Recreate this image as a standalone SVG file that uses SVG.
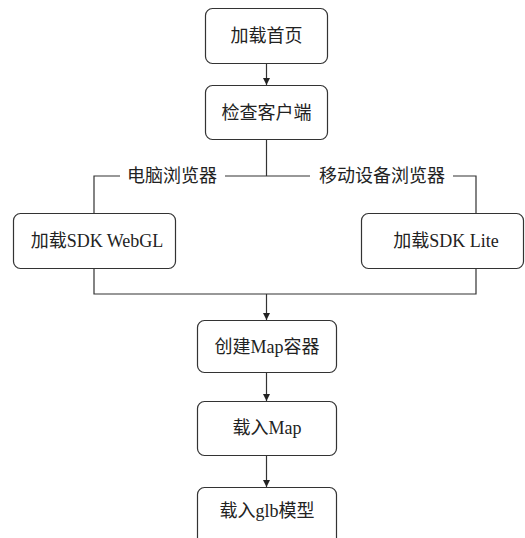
<svg xmlns="http://www.w3.org/2000/svg" width="525" height="538" viewBox="0 0 525 538">
<defs>
<marker id="arr" markerWidth="8" markerHeight="8" refX="7" refY="4" orient="auto" markerUnits="userSpaceOnUse">
<path d="M0,0.5 L7,4 L0,7.5 Z" fill="#222"/>
</marker>
<style>
.box{fill:#fff;stroke:#333;stroke-width:1.2}
.t{font-family:"Liberation Serif","Noto Sans CJK SC",serif;font-size:18px;fill:#222;text-anchor:middle;dominant-baseline:central}
.c{fill:none;stroke:#333;stroke-width:1.2}
</style>
</defs>
<rect width="525" height="538" fill="#fff"/>
<g id="connectors">
<path class="c" d="M266.5,63 V85" marker-end="url(#arr)"/>
<path class="c" d="M266.5,139 V176"/>
<path class="c" d="M94,213 V176 H120"/>
<path class="c" d="M225,176 H310"/>
<path class="c" d="M453,176 H476 V213"/>
<path class="c" d="M94,268 V294 H476 V268"/>
<path class="c" d="M266.5,294 V320" marker-end="url(#arr)"/>
<path class="c" d="M266.5,372 V401" marker-end="url(#arr)"/>
<path class="c" d="M266.5,455 V487" marker-end="url(#arr)"/>
<text class="t" x="172" y="176">电脑浏览器</text>
<text class="t" x="382" y="176">移动设备浏览器</text>
</g>
<g id="n1"><rect class="box" x="205.5" y="8.5" width="122" height="55" rx="7"/><text class="t" x="266.5" y="36">加载首页</text></g>
<g id="n2"><rect class="box" x="205.5" y="85.5" width="122" height="54" rx="7"/><text class="t" x="266.5" y="113">检查客户端</text></g>
<g id="n3"><rect class="box" x="13.5" y="213.5" width="162" height="55" rx="7"/><text class="t" x="97" y="241">加载SDK WebGL</text></g>
<g id="n4"><rect class="box" x="361.5" y="213.5" width="162" height="55" rx="7"/><text class="t" x="446" y="241">加载SDK Lite</text></g>
<g id="n5"><rect class="box" x="197.5" y="320.5" width="139" height="52" rx="7"/><text class="t" x="267" y="347">创建Map容器</text></g>
<g id="n6"><rect class="box" x="197.5" y="401.5" width="139" height="54" rx="7"/><text class="t" x="267" y="428">载入Map</text></g>
<g id="n7"><rect class="box" x="197.5" y="487.5" width="139" height="60" rx="7"/><text class="t" x="267" y="511">载入glb模型</text></g>
</svg>
